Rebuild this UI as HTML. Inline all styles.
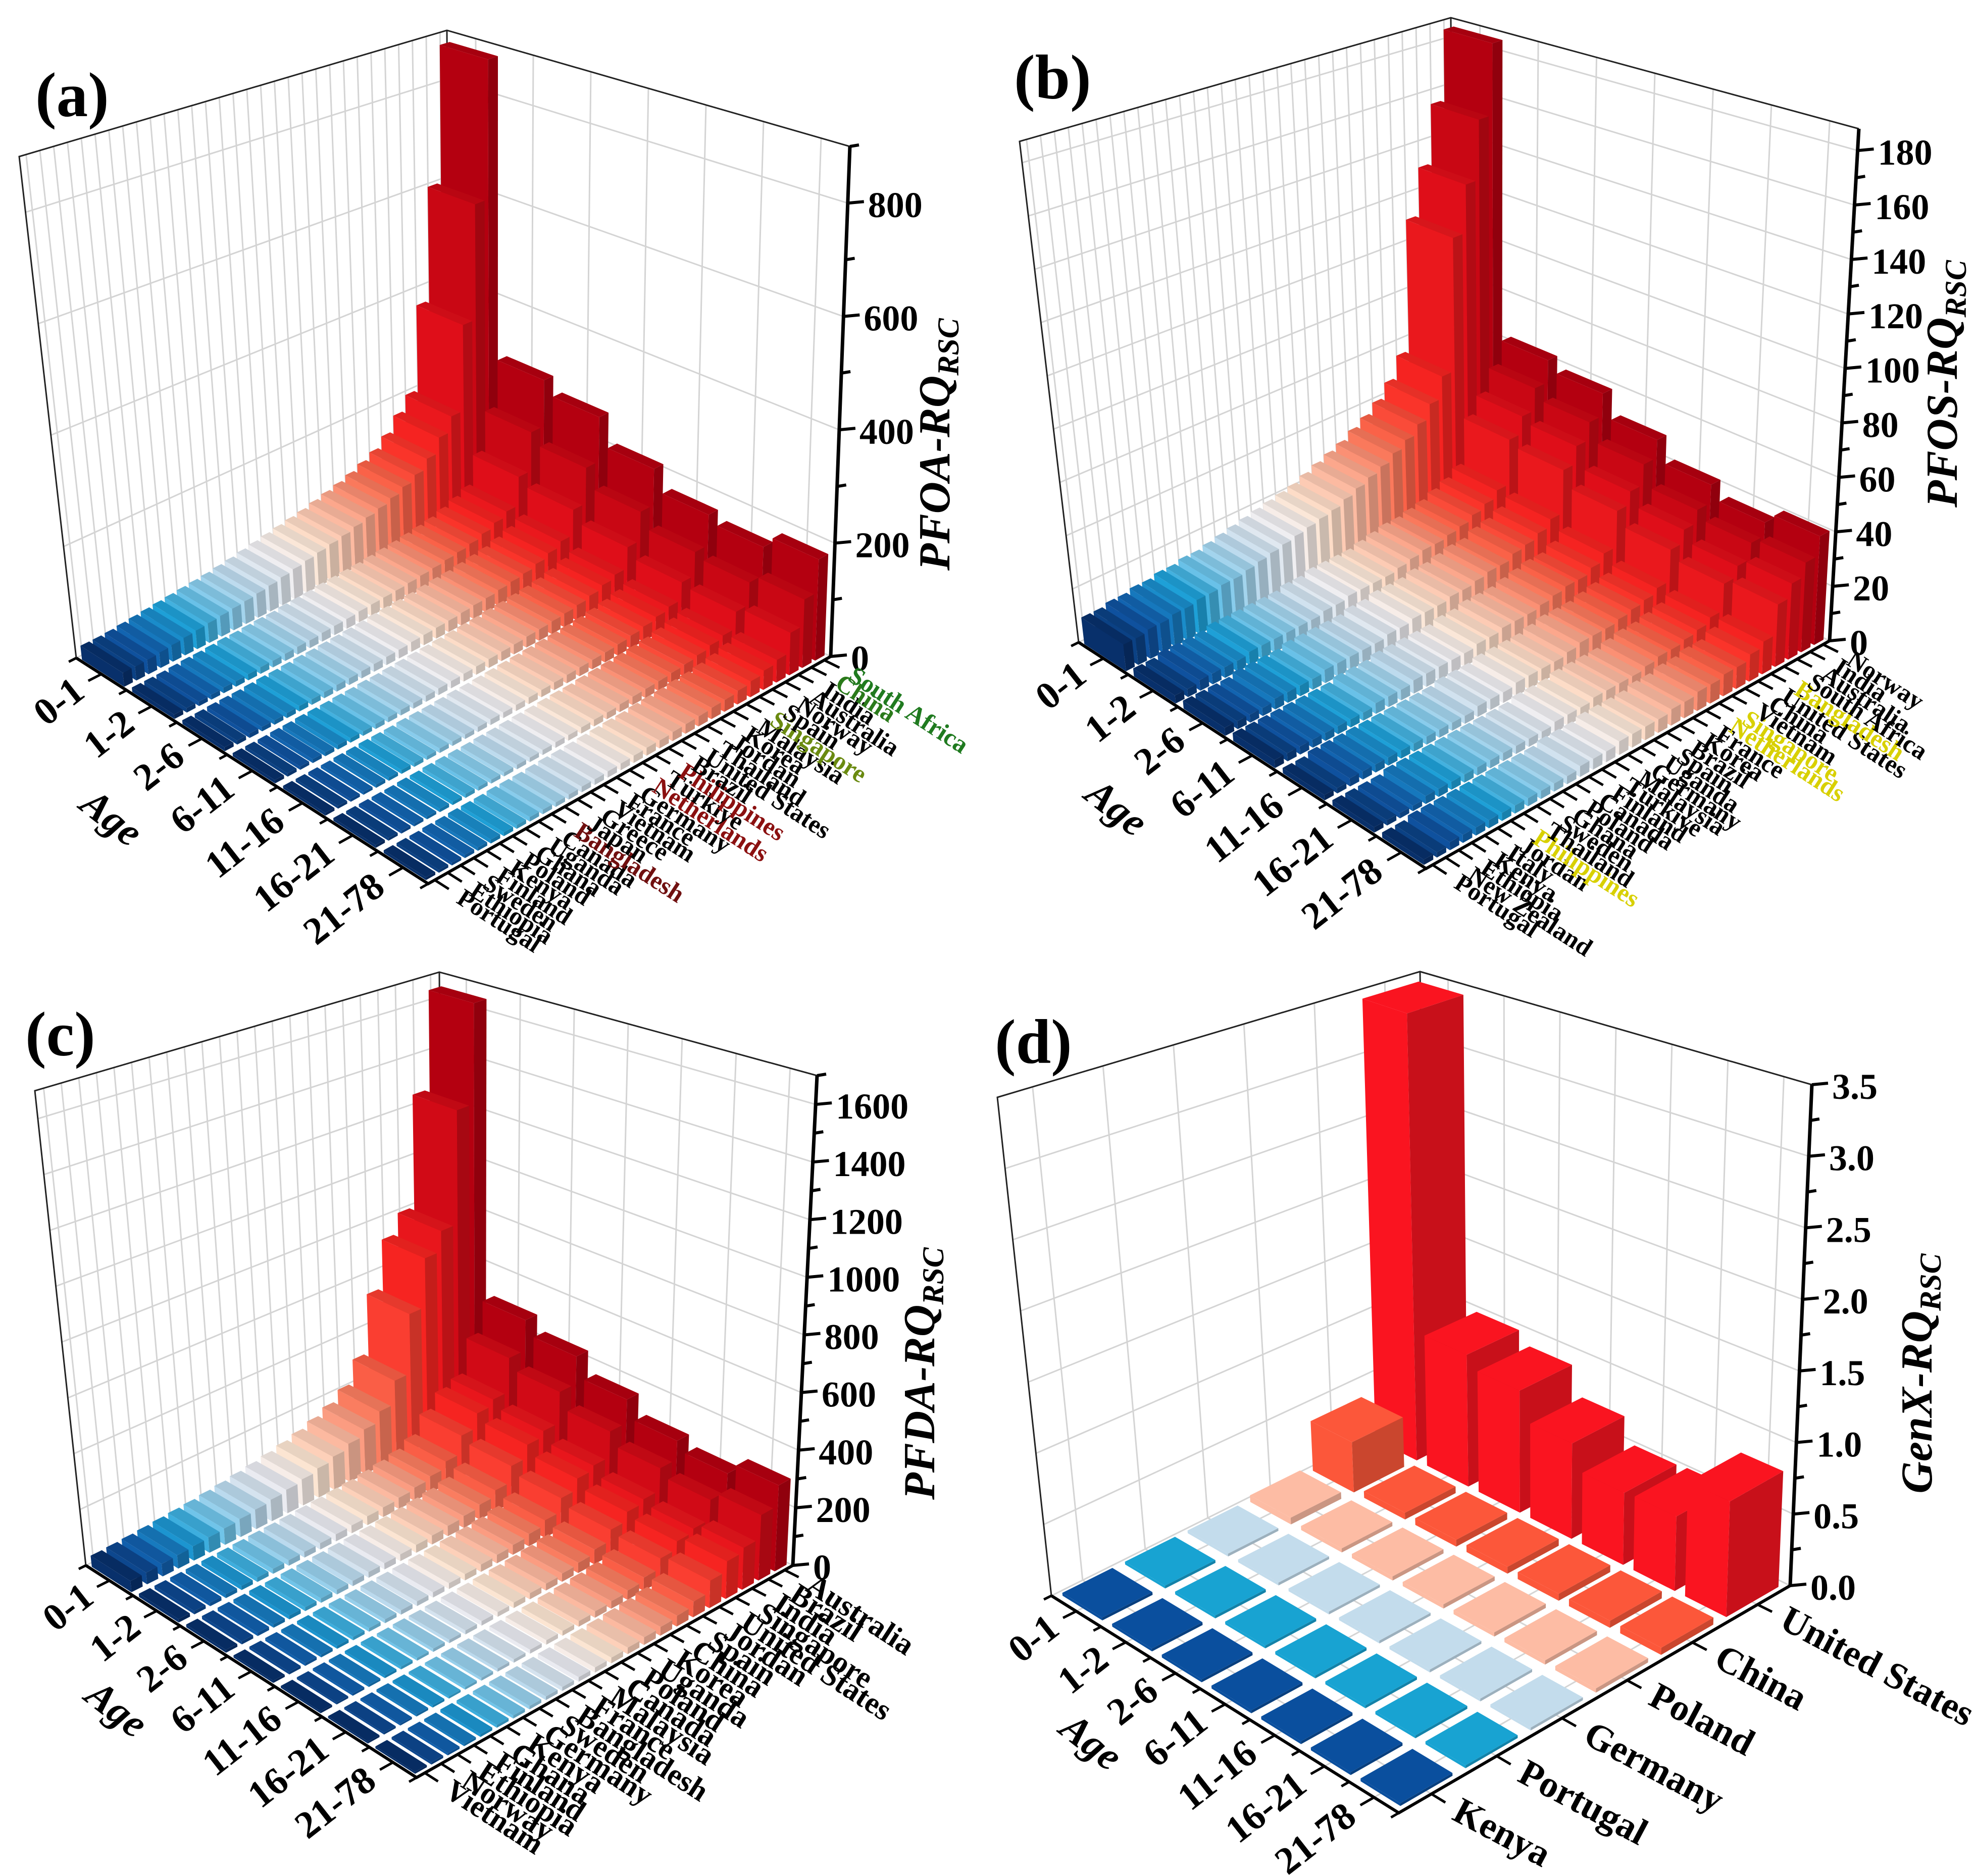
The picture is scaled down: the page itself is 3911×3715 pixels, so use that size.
<!DOCTYPE html>
<html><head><meta charset="utf-8">
<style>
html,body{margin:0;padding:0;background:#fff;}
svg{display:block;font-family:"Liberation Serif",serif;}
</style></head>
<body>
<svg id="fig" width="3911" height="3715" viewBox="0 0 3911 3715" xmlns="http://www.w3.org/2000/svg"></svg>
<script>
const ageLabels = ['0-1','1-2','2-6','6-11','11-16','16-21','21-78'];

const countriesA = ['Portugal','Ethiopia','Sweden','Finland','Kenya','Poland','Ghana','Uganda','Canada','Bangladesh','Japan','Greece','Vietnam','France','Germany','Netherlands','Türkiye','Philippines','Brazil','United States','Thailand','Jordan','Korea','Malaysia','Singapore','Spain','Norway','Australia','India','China','South Africa'];
const valuesA = [
 [25,25,26,28,30,32,34,36,38,40,42,45,48,52,56,60,64,68,72,78,84,90,98,108,120,140,170,200,370,600,880],
 [8,8,8,9,10,10,11,12,12,13,14,14,16,17,18,20,21,22,23,25,27,29,32,35,39,46,55,65,120,195,285],
 [7,7,8,8,8,9,10,10,11,12,12,13,14,15,16,18,19,20,21,23,25,26,29,32,35,41,49,59,107,175,260],
 [6,6,6,7,7,8,8,8,9,9,10,10,11,12,13,14,15,16,17,18,20,21,23,25,28,33,40,47,86,140,208],
 [5,5,5,5,6,6,7,7,7,8,8,8,9,10,10,11,12,13,14,15,16,17,18,20,23,27,32,38,70,113,169],
 [5,5,5,5,5,6,6,7,7,7,7,8,8,9,10,10,11,12,12,14,15,16,17,19,21,25,30,35,65,105,156],
 [5,5,5,6,6,7,7,7,8,8,8,9,10,10,11,12,13,14,14,16,17,18,20,21,24,28,34,40,75,121,179]
];
const zTicksA = [0,200,400,600,800];

const countriesB = ['Portugal','New Zealand','Ethiopia','Kenya','Italy','Jordan','Philippines','Thailand','Sweden','Ghana','Poland','Canada','Finland','Türkiye','Malaysia','Germany','Uganda','Spain','Brazil','Korea','France','Netherlands','Singapore','Vietnam','China','United States','Bangladesh','South Africa','Australia','India','Norway'];
const valuesB = [
 [10,10,11,11,12,12,13,13,14,14,15,16,17,18,19,20,21,22,24,26,28,30,33,36,40,46,55,110,130,155,185],
 [3,3,4,4,4,4,5,5,5,5,5,5,6,6,7,7,7,7,8,9,10,10,11,12,14,16,19,37,44,53,62],
 [3,3,3,3,4,4,4,4,5,5,5,5,5,6,6,7,7,7,8,8,9,10,10,12,13,15,18,35,42,49,58],
 [3,3,3,3,3,3,3,3,4,4,4,5,5,5,5,5,6,6,7,7,7,8,9,10,10,12,15,29,34,42,49],
 [2,2,3,3,3,3,3,3,3,3,3,3,4,4,4,5,5,5,5,6,7,7,7,8,9,10,12,24,29,34,41],
 [2,2,2,2,3,3,3,3,3,3,3,3,3,3,4,4,4,5,5,5,5,6,7,7,8,9,11,21,25,31,36],
 [2,2,3,3,3,3,3,3,3,3,3,3,4,4,4,5,5,5,5,6,6,7,7,8,8,10,12,23,28,33,40]
];
const zTicksB = [0,20,40,60,80,100,120,140,160,180];

const countriesC = ['Vietnam','Norway','Ethiopia','Finland','Ghana','Kenya','Germany','Sweden','Bangladesh','France','Malaysia','Canada','Poland','Uganda','Korea','China','Spain','Jordan','United States','Singapore','India','Brazil','Australia'];
const valuesC = [
 [40,42,45,48,52,56,60,66,72,80,88,98,110,125,145,170,210,300,530,720,800,1250,1650],
 [12,12,13,14,15,16,18,20,21,23,26,29,33,36,42,50,62,88,156,211,234,364,481],
 [10,11,12,12,14,14,16,17,19,21,23,25,29,33,38,44,55,78,138,187,208,325,429],
 [8,9,10,10,11,12,13,14,16,17,19,21,23,27,31,36,45,64,114,155,172,267,354],
 [7,7,8,8,9,10,10,12,12,14,16,17,20,22,25,30,37,53,93,126,140,221,289],
 [7,7,7,8,8,8,9,10,11,12,14,16,17,20,23,27,33,47,83,112,125,195,257],
 [7,8,8,8,10,10,11,12,13,14,16,18,20,23,27,31,38,55,96,131,146,228,299]
];
const zTicksC = [0,200,400,600,800,1000,1200,1400,1600];

const countriesD = ['Kenya','Portugal','Germany','Poland','China','United States'];
const valuesD = [
 [0.02,0.02,0.02,0.05,0.38,3.45],
 [0.02,0.02,0.02,0.03,0.05,1.0],
 [0.02,0.02,0.02,0.03,0.05,0.91],
 [0.02,0.02,0.02,0.03,0.05,0.70],
 [0.02,0.02,0.02,0.03,0.05,0.52],
 [0.02,0.02,0.02,0.03,0.05,0.53],
 [0.02,0.02,0.02,0.03,0.05,0.81]
];
const zTicksD = [0,0.5,1.0,1.5,2.0,2.5,3.0,3.5];
const zTickTextD = ['0.0','0.5','1.0','1.5','2.0','2.5','3.0','3.5'];

const NS = 'http://www.w3.org/2000/svg';
const svg = document.getElementById('fig');
function mk(tag, attrs, parent){
  const e = document.createElementNS(NS, tag);
  for (const k in attrs) e.setAttribute(k, attrs[k]);
  (parent||svg).appendChild(e);
  return e;
}
function lerp(a,b,t){return [a[0]+(b[0]-a[0])*t, a[1]+(b[1]-a[1])*t];}

const stops = [[0,[8,48,107]],[0.08,[16,88,168]],[0.2,[30,160,215]],[0.28,[120,200,235]],[0.38,[200,222,238]],[0.48,[245,240,242]],[0.55,[253,228,208]],[0.65,[252,178,152]],[0.75,[250,110,80]],[0.85,[250,40,35]],[0.93,[225,15,25]],[1,[180,0,16]]];
function cmap(t){
  for (let i=1;i<stops.length;i++){
    if (t<=stops[i][0]){
      const a=stops[i-1], b=stops[i]; const f=(t-a[0])/(b[0]-a[0]);
      return [0,1,2].map(k=>Math.round(a[1][k]+(b[1][k]-a[1][k])*f));
    }
  }
  return stops[stops.length-1][1];
}
function rgb(c,f){return 'rgb('+c.map(v=>Math.max(0,Math.min(255,Math.round(v*f)))).join(',')+')';}
function hex2(c){return [parseInt(c.substr(1,2),16),parseInt(c.substr(3,2),16),parseInt(c.substr(5,2),16)];}

const labelColorsA = {'South Africa':'#1f7a1f','China':'#2a7a1a','Singapore':'#6a8a10','Netherlands':'#8b1010','Philippines':'#8b1010','Bangladesh':'#701010'};
const labelColorsB = {'Bangladesh':'#d8d000','Singapore':'#d8d000','Netherlands':'#d8d000','Philippines':'#d8d000'};

const panels = [
 {key:'a', L:[151,1303],F:[848,1750],R:[1645,1300],B:[890,928],Lt:[38,310],Bt:[885,60],Rt:[1683,290],
  zmax:900, zticks:zTicksA, ztext:null, minor:100, countries:countriesA, values:valuesA, colors:null, lc:labelColorsA,
  title:'PFOA-RQ', label:'(a)', labelPos:[70,230], titlePos:[1880,880], agePos:[205,1640], cFont:50, cRot:33, hu:0.42, hv:0.36},
 {key:'b', L:[2136,1272],F:[2824,1720],R:[3623,1269],B:[2880,902],Lt:[2019,280],Bt:[2873,35],Rt:[3681,255],
  zmax:188, zticks:zTicksB, ztext:null, minor:10, countries:countriesB, values:valuesB, colors:null, lc:labelColorsB,
  title:'PFOS-RQ', label:'(b)', labelPos:[2008,195], titlePos:[3875,760], agePos:[2195,1620], cFont:50, cRot:33, hu:0.42, hv:0.36},
 {key:'c', L:[170,3100],F:[825,3520],R:[1570,3100],B:[875,2750],Lt:[69,2160],Bt:[870,1925],Rt:[1618,2130],
  zmax:1700, zticks:zTicksC, ztext:null, minor:100, countries:countriesC, values:valuesC, colors:null, lc:{},
  title:'PFDA-RQ', label:'(c)', labelPos:[50,2090], titlePos:[1850,2720], agePos:[215,3405], cFont:60, cRot:33, hu:0.42, hv:0.36},
 {key:'d', L:[2082,3160],F:[2770,3590],R:[3545,3140],B:[2825,2790],Lt:[1975,2173],Bt:[2812,1924],Rt:[3588,2148],
  zmax:3.5, zticks:zTicksD, ztext:zTickTextD, minor:0.25, countries:countriesD, values:valuesD,
  colors:['#0a4f9e','#18a3d2','#c3dcec','#fdbca4','#fc573a','#fa1420'], lc:{},
  title:'GenX-RQ', label:'(d)', labelPos:[1970,2105], titlePos:[3825,2720], agePos:[2145,3470], cFont:74, cRot:28, hu:0.4, hv:0.4, floor:true}
];

panels.forEach(c=>{
  c.Ft = [c.F[0]+((c.Lt[0]-c.L[0])+(c.Rt[0]-c.R[0]))/2, c.F[1]+((c.Lt[1]-c.L[1])+(c.Rt[1]-c.R[1]))/2];
  const P = (u,v,w)=>{
    const b = lerp(lerp(c.L,c.F,u), lerp(c.B,c.R,u), v);
    const t = lerp(lerp(c.Lt,c.Ft,u), lerp(c.Bt,c.Rt,u), v);
    return lerp(b,t,w);
  };
  const pt = p=>p[0].toFixed(1)+','+p[1].toFixed(1);
  const nA = ageLabels.length, nC = c.countries.length;
  const uC = i=>(i+0.5)/nA, vC = j=>(j+0.5)/nC;
  const zW = z=>z/c.zmax;

  const g = mk('g',{});
  
  

  const walls = mk('g',{},g);
  
  
  c.zticks.forEach(z=>{
    const w=zW(z);
    const l1 = mk('polyline',{points:pt(P(0,0,w))+' '+pt(P(0,1,w))+' '+pt(P(1,1,w)),fill:'none',stroke:'#d4d4d4','stroke-width':3},walls);
    
    
  });
  for (let j=0;j<nC;j++){
    const l = mk('line',{x1:P(0,vC(j),0)[0],y1:P(0,vC(j),0)[1],x2:P(0,vC(j),1)[0],y2:P(0,vC(j),1)[1],stroke:'#d4d4d4','stroke-width':3},walls);
    
    
  }
  for (let i=0;i<nA;i++){
    const l = mk('line',{x1:P(uC(i),1,0)[0],y1:P(uC(i),1,0)[1],x2:P(uC(i),1,1)[0],y2:P(uC(i),1,1)[1],stroke:'#d4d4d4','stroke-width':3},walls);
    
    
  }
  if (c.floor){
    for (let i=0;i<nA;i++){
      const l = mk('line',{x1:P(uC(i),0,0)[0],y1:P(uC(i),0,0)[1],x2:P(uC(i),1,0)[0],y2:P(uC(i),1,0)[1],stroke:'#d4d4d4','stroke-width':3},walls);
      
      
    }
    for (let j=0;j<nC;j++){
      const l = mk('line',{x1:P(0,vC(j),0)[0],y1:P(0,vC(j),0)[1],x2:P(1,vC(j),0)[0],y2:P(1,vC(j),0)[1],stroke:'#d4d4d4','stroke-width':3},walls);
      
      
    }
  }
  const border = mk('polyline',{points:[P(0,0,0),P(0,0,1),P(0,1,1),P(1,1,1)].map(pt).join(' '),fill:'none',stroke:'#222','stroke-width':3},g);
  
  
  const bk = mk('line',{x1:P(0,1,0)[0],y1:P(0,1,0)[1],x2:P(0,1,1)[0],y2:P(0,1,1)[1],stroke:'#222','stroke-width':3},g);
  
  

  const bars = mk('g',{},g);
  
  
  for (let i=0;i<nA;i++){
    for (let j=nC-1;j>=0;j--){
      const val = c.values[i][j];
      const w = Math.max(zW(val), 0.004);
      const base = c.colors ? hex2(c.colors[j]) : cmap(nC>1 ? j/(nC-1) : 0);
      const u0=(i+0.5-c.hu)/nA, u1=(i+0.5+c.hu)/nA, v0=(j+0.5-c.hv)/nC, v1=(j+0.5+c.hv)/nC;
      const bg = mk('g',{},bars);
      
      
      mk('polygon',{points:[P(u0,v0,0),P(u1,v0,0),P(u1,v0,w),P(u0,v0,w)].map(pt).join(' '),fill:rgb(base,1.0)},bg);
      mk('polygon',{points:[P(u1,v0,0),P(u1,v1,0),P(u1,v1,w),P(u1,v0,w)].map(pt).join(' '),fill:rgb(base,0.8)},bg);
      mk('polygon',{points:[P(u0,v0,w),P(u1,v0,w),P(u1,v1,w),P(u0,v1,w)].map(pt).join(' '),fill:rgb(base,c.colors?1.0:0.92)},bg);
    }
  }

  const ax = mk('polyline',{points:[P(0,0,0),P(1,0,0),P(1,1,0)].map(pt).join(' '),fill:'none',stroke:'#000','stroke-width':6},g);
  
  
  const zax = mk('line',{x1:P(1,1,0)[0],y1:P(1,1,0)[1],x2:P(1,1,1)[0],y2:P(1,1,1)[1],stroke:'#000','stroke-width':7},g);
  
  

  for (let z=0; z<=c.zmax+1e-9; z+=c.minor){
    const p=P(1,1,zW(z));
    const major = c.zticks.some(t=>Math.abs(t-z)<1e-6);
    const t = mk('line',{x1:p[0],y1:p[1],x2:p[0]+(major?32:18),y2:p[1]-3,stroke:'#000','stroke-width':6},g);
    
    
  }
  c.zticks.forEach((z,k)=>{
    const p=P(1,1,zW(z));
    const t = mk('text',{x:p[0]+40,y:p[1]+28,'font-size':72,'font-weight':'bold',fill:'#000'},g);
    t.textContent = c.ztext ? c.ztext[k] : String(z);
    
    
  });

  for (let k=0;k<=2*nA;k++){
    const u=k/(2*nA);
    const a=P(u,0,0), b=P(u,k%2?-0.035:-0.02,0);
    const t = mk('line',{x1:a[0],y1:a[1],x2:b[0],y2:b[1],stroke:'#000','stroke-width':5},g);
    
    
  }
  ageLabels.forEach((s,i)=>{
    const p=P(uC(i),-0.06,0);
    const t = mk('text',{x:p[0],y:p[1]+25,'font-size':76,'font-weight':'bold','text-anchor':'end',transform:'rotate(-38 '+p[0]+' '+p[1]+')'},g);
    t.textContent=s;
    
    
  });
  const at = mk('text',{x:c.agePos[0],y:c.agePos[1],'font-size':80,'font-weight':'bold','font-style':'italic','text-anchor':'middle',transform:'rotate(38 '+c.agePos[0]+' '+c.agePos[1]+')'},g);
  at.textContent='Age';
  
  

  for (let j=0;j<nC;j++){
    const a=P(1,vC(j),0), b=P(1.04,vC(j),0);
    const t = mk('line',{x1:a[0],y1:a[1],x2:b[0],y2:b[1],stroke:'#000','stroke-width':5},g);
    
    
    const p=P(1.07,vC(j),0);
    const tx = mk('text',{x:p[0],y:p[1]+c.cFont*0.3,'font-size':c.cFont,'font-weight':'bold',fill:c.lc[c.countries[j]]||'#000',transform:'rotate('+c.cRot+' '+p[0]+' '+p[1]+')'},g);
    tx.textContent=c.countries[j];
    
    
  }

  const tt = mk('text',{x:c.titlePos[0],y:c.titlePos[1],'font-size':88,'font-weight':'bold','font-style':'italic','text-anchor':'middle',transform:'rotate(-90 '+c.titlePos[0]+' '+c.titlePos[1]+')'},g);
  
  
  tt.appendChild(document.createTextNode(c.title));
  const sub = mk('tspan',{'font-size':60,dy:18},tt);
  sub.textContent='RSC';
  const pl = mk('text',{x:c.labelPos[0],y:c.labelPos[1],'font-size':125,'font-weight':'bold'},g);
  pl.textContent=c.label;
  
  
});
</script>
</body></html>
